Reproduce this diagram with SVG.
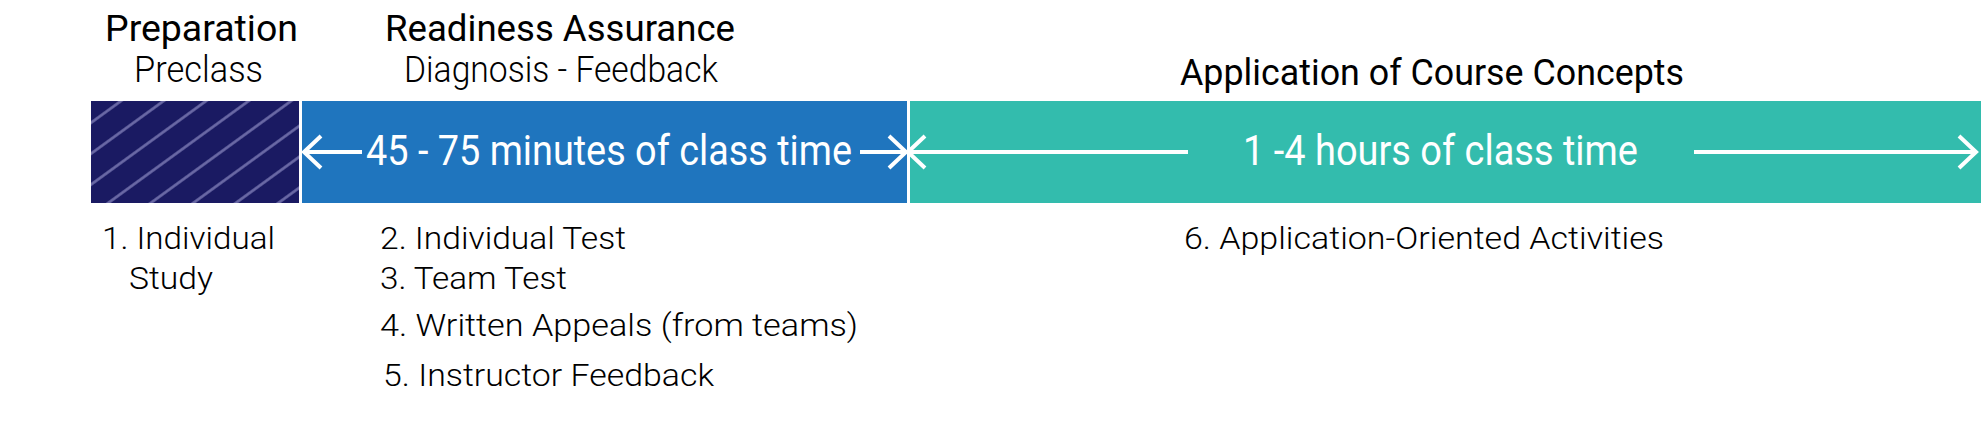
<svg xmlns="http://www.w3.org/2000/svg" width="1988" height="439" viewBox="0 0 1988 439">
<style>
text{font-family:Roboto,"Liberation Sans",sans-serif;}
.title{font-size:37px;font-weight:400;fill:#000;}
.sub{font-size:37px;font-weight:300;fill:#000;}
.bar{font-size:42px;font-weight:400;fill:#fff;}
.item{font-size:32px;font-weight:300;fill:#000;}
.conn{stroke:#fff;stroke-width:4;fill:none;}
</style>
<defs>
<pattern id="hatch" patternUnits="userSpaceOnUse" width="60" height="25" patternTransform="translate(120,101.7) rotate(-36) translate(0,-12.5)">
<rect x="0" y="0" width="60" height="25" fill="#1a1a62"/>
<rect x="0" y="11.2" width="60" height="2.6" fill="#6d6ca8"/>
</pattern>
<marker id="head" markerUnits="userSpaceOnUse" markerWidth="30" markerHeight="40" viewBox="0 0 30 40" refX="22" refY="20" orient="auto-start-reverse">
<path d="M5,4 L22,20 L5,36" stroke="#fff" stroke-width="4" fill="none" stroke-linejoin="miter"/>
</marker>
</defs>
<g id="preparation">
<text class="title" x="105" y="41" textLength="193" lengthAdjust="spacingAndGlyphs">Preparation</text>
<text class="sub" x="134" y="82" textLength="129" lengthAdjust="spacingAndGlyphs">Preclass</text>
<rect x="91" y="101" width="208" height="102" fill="url(#hatch)"/>
<text class="item" x="102" y="249" textLength="173" lengthAdjust="spacingAndGlyphs">1. Individual</text>
<text class="item" x="129" y="289" textLength="84" lengthAdjust="spacingAndGlyphs">Study</text>
</g>
<g id="readiness">
<text class="title" x="385" y="41" textLength="350" lengthAdjust="spacingAndGlyphs">Readiness Assurance</text>
<text class="sub" x="404" y="82" textLength="314" lengthAdjust="spacingAndGlyphs">Diagnosis - Feedback</text>
<rect x="302" y="101" width="605" height="102" fill="#1f75be"/>
<text class="bar" x="366" y="165" textLength="486" lengthAdjust="spacingAndGlyphs">45 - 75 minutes of class time</text>
<text class="item" x="380" y="249" textLength="246" lengthAdjust="spacingAndGlyphs">2. Individual Test</text>
<text class="item" x="380" y="289" textLength="187" lengthAdjust="spacingAndGlyphs">3. Team Test</text>
<text class="item" x="380" y="336" textLength="478" lengthAdjust="spacingAndGlyphs">4. Written Appeals (from teams)</text>
<text class="item" x="383" y="386" textLength="331" lengthAdjust="spacingAndGlyphs">5. Instructor Feedback</text>
</g>
<g id="application">
<text class="title" x="1180" y="85" textLength="504" lengthAdjust="spacingAndGlyphs">Application of Course Concepts</text>
<rect x="910" y="101" width="1071" height="102" fill="#33bcad"/>
<text class="bar" x="1243" y="165" textLength="395" lengthAdjust="spacingAndGlyphs">1 -4 hours of class time</text>
<text class="item" x="1184" y="249" textLength="480" lengthAdjust="spacingAndGlyphs">6. Application-Oriented Activities</text>
</g>
<g id="connectors">
<line class="conn" x1="304" y1="152" x2="362" y2="152" marker-start="url(#head)"/>
<line class="conn" x1="860" y1="152" x2="906" y2="152" marker-end="url(#head)"/>
<line class="conn" x1="908" y1="152" x2="1188" y2="152" marker-start="url(#head)"/>
<line class="conn" x1="1694" y1="152" x2="1976" y2="152" marker-end="url(#head)"/>
</g>
</svg>
